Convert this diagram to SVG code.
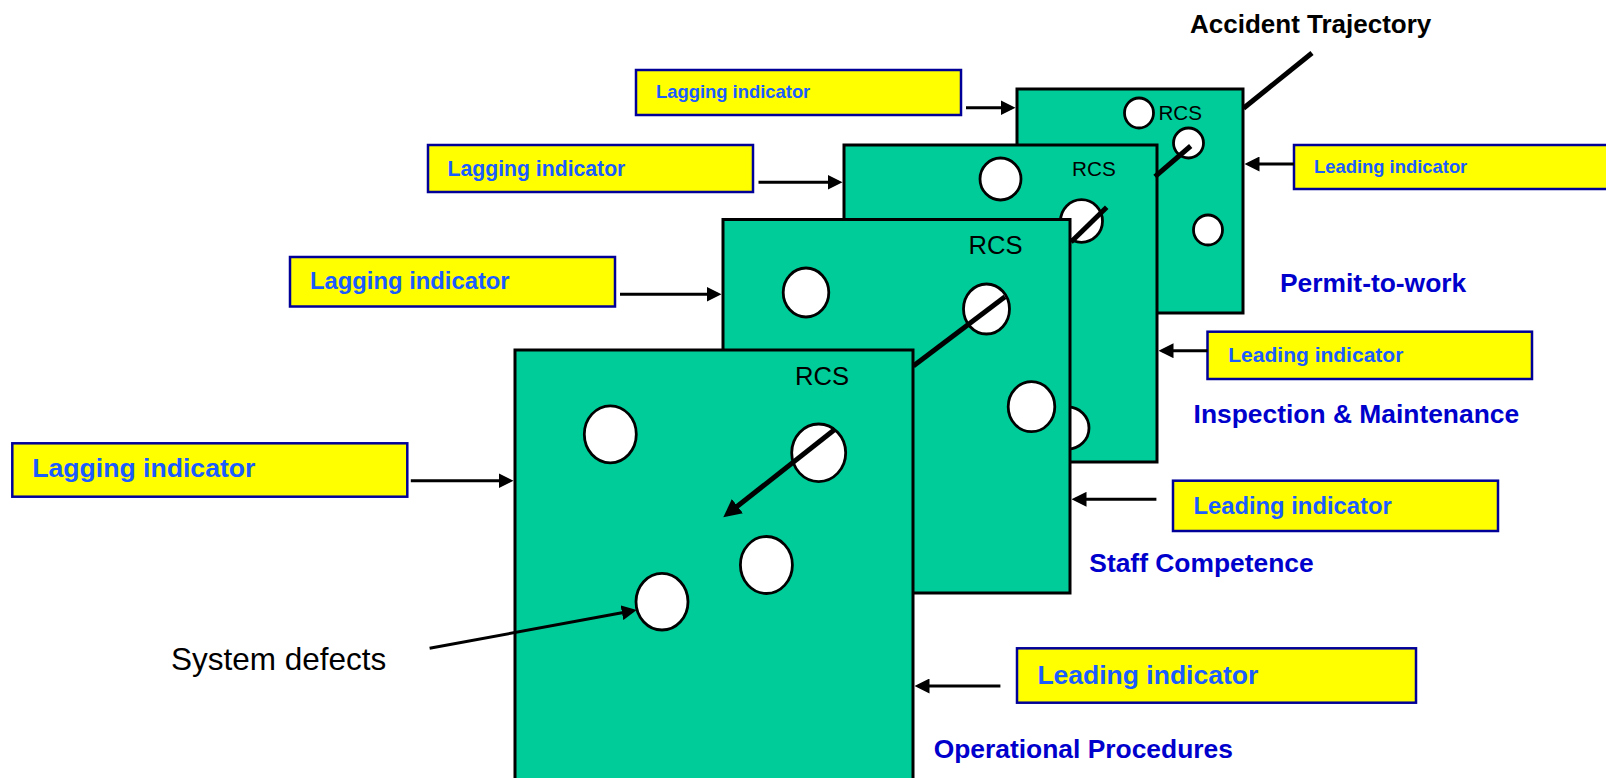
<svg xmlns="http://www.w3.org/2000/svg" width="1606" height="778" viewBox="0 0 1606 778">
<defs>
<style>
.plate{fill:#00CC99;stroke:#000;stroke-width:3}
.hole{fill:#fff;stroke:#000;stroke-width:2.8}
.rcs{font-family:"Liberation Sans",Arial,sans-serif;fill:#000}
.box{fill:#FFFF00;stroke:#000099;stroke-width:2.5}
.ind{font-family:"Liberation Sans",Arial,sans-serif;font-weight:bold;fill:#1a5cff}
.lbl{font-family:"Liberation Sans",Arial,sans-serif;font-weight:bold;fill:#0000cc;font-size:26.4px}
.arr{stroke:#000;stroke-width:3;fill:none;marker-end:url(#ah)}
.traj{stroke:#000;stroke-width:5;fill:none;stroke-linecap:butt}
</style>
<marker id="ah" viewBox="0 0 15 15" refX="11" refY="7.5" markerWidth="15" markerHeight="15" markerUnits="userSpaceOnUse" orient="auto">
<path d="M0,0 L15,7.5 L0,15 z" fill="#000"/>
</marker>
<marker id="ahBig" viewBox="0 0 18 18" refX="12" refY="9" markerWidth="18" markerHeight="18" markerUnits="userSpaceOnUse" orient="auto">
<path d="M0,0 L18,9 L0,18 z" fill="#000"/>
</marker>
</defs>
<rect width="1606" height="778" fill="#fff"/>

<g id="plate-permit">
<rect class="plate" x="1017" y="89" width="226" height="224"/>
<ellipse class="hole" cx="1139" cy="113" rx="14.5" ry="15"/>
<text class="rcs" x="1158.5" y="120" font-size="20.6">RCS</text>
<ellipse class="hole" cx="1188.5" cy="143" rx="15" ry="15"/>
<ellipse class="hole" cx="1208" cy="230" rx="14.5" ry="15"/>
</g>

<g id="plate-inspection">
<rect class="plate" x="844" y="145" width="313" height="317"/>
<ellipse class="hole" cx="1000.5" cy="179" rx="20.5" ry="21"/>
<text class="rcs" x="1072" y="176" font-size="20.7">RCS</text>
<ellipse class="hole" cx="1081.5" cy="221" rx="21" ry="21.3"/>
<ellipse class="hole" cx="1068" cy="428" rx="21" ry="21"/>
</g>

<g id="plate-staff">
<rect class="plate" x="723" y="219.5" width="347" height="373.5"/>
<ellipse class="hole" cx="806" cy="292.5" rx="22.8" ry="24.5"/>
<text class="rcs" x="968.5" y="254" font-size="25.6">RCS</text>
<ellipse class="hole" cx="986.5" cy="309" rx="23" ry="25"/>
<ellipse class="hole" cx="1031.5" cy="406.7" rx="23.3" ry="25"/>
</g>

<g id="plate-operational">
<rect class="plate" x="515" y="350" width="398" height="440"/>
<text class="rcs" x="795" y="385" font-size="25.6">RCS</text>
<ellipse class="hole" cx="610.3" cy="434.3" rx="26" ry="28.5"/>
<ellipse class="hole" cx="818.7" cy="452.8" rx="27" ry="28.8"/>
<ellipse class="hole" cx="766.4" cy="565" rx="26" ry="28.5"/>
<ellipse class="hole" cx="662" cy="601.7" rx="26" ry="28.3"/>
</g>

<g id="label-permit"><text class="lbl" x="1280" y="291.7">Permit-to-work</text></g>
<g id="label-inspection"><text class="lbl" x="1193.6" y="422.7">Inspection &amp; Maintenance</text></g>
<g id="label-staff"><text class="lbl" x="1089.3" y="571.7">Staff Competence</text></g>
<g id="label-operational"><text class="lbl" x="933.7" y="758.3">Operational Procedures</text></g>

<g id="lag-permit">
<rect class="box" x="636" y="70" width="325" height="45"/>
<text class="ind" x="656" y="98" font-size="18.4">Lagging indicator</text>
</g>
<g id="lag-inspection">
<rect class="box" x="428" y="145" width="325" height="47"/>
<text class="ind" x="447.6" y="175.5" font-size="21.2">Lagging indicator</text>
</g>
<g id="lag-staff">
<rect class="box" x="290" y="257" width="325" height="49.5"/>
<text class="ind" x="310" y="289" font-size="23.8">Lagging indicator</text>
</g>
<g id="lag-operational">
<rect class="box" x="12.3" y="443.3" width="395" height="53.4"/>
<text class="ind" x="32.3" y="476.7" font-size="26.6">Lagging indicator</text>
</g>

<g id="lead-permit">
<rect class="box" x="1294" y="145" width="330" height="44"/>
<text class="ind" x="1314" y="173" font-size="18.4">Leading indicator</text>
</g>
<g id="lead-inspection">
<rect class="box" x="1207.5" y="331.7" width="324.5" height="47.3"/>
<text class="ind" x="1228.3" y="361.7" font-size="21">Leading indicator</text>
</g>
<g id="lead-staff">
<rect class="box" x="1173" y="480.7" width="325" height="50.3"/>
<text class="ind" x="1193.4" y="514" font-size="23.8">Leading indicator</text>
</g>
<g id="lead-operational">
<rect class="box" x="1017" y="648.3" width="399" height="54.4"/>
<text class="ind" x="1037.4" y="684" font-size="26.5">Leading indicator</text>
</g>

<g id="title-accident"><text x="1190" y="32.5" font-family="Liberation Sans, Arial, sans-serif" font-weight="bold" font-size="26" fill="#000">Accident Trajectory</text></g>
<g id="label-defects"><text x="171" y="670" font-family="Liberation Sans, Arial, sans-serif" font-size="31.5" fill="#000">System defects</text></g>

<g id="connectors">
<line class="arr" x1="966" y1="107.7" x2="1011.5" y2="107.7"/>
<line class="arr" x1="758.5" y1="182.3" x2="838.5" y2="182.3"/>
<line class="arr" x1="620" y1="294.3" x2="717.5" y2="294.3"/>
<line class="arr" x1="410.8" y1="480.7" x2="509.5" y2="480.7"/>
<line class="arr" x1="1294" y1="164" x2="1248.5" y2="164"/>
<line class="arr" x1="1207.5" y1="350.7" x2="1162.5" y2="350.7"/>
<line class="arr" x1="1156.4" y1="499.3" x2="1075.5" y2="499.3"/>
<line class="arr" x1="1000.4" y1="686" x2="918.5" y2="686"/>
<line class="arr" x1="429.6" y1="648.3" x2="632.8" y2="610.7"/>
<line class="traj" x1="1312" y1="53" x2="1243.5" y2="108.3"/>
<line class="traj" x1="1190.7" y1="146" x2="1155" y2="176.7"/>
<line class="traj" x1="1106.7" y1="207.3" x2="1071" y2="242"/>
<line class="traj" x1="1005" y1="296.7" x2="913.3" y2="366"/>
<line class="traj" x1="835" y1="429.3" x2="728" y2="513.6" marker-end="url(#ahBig)"/>
</g>
</svg>
